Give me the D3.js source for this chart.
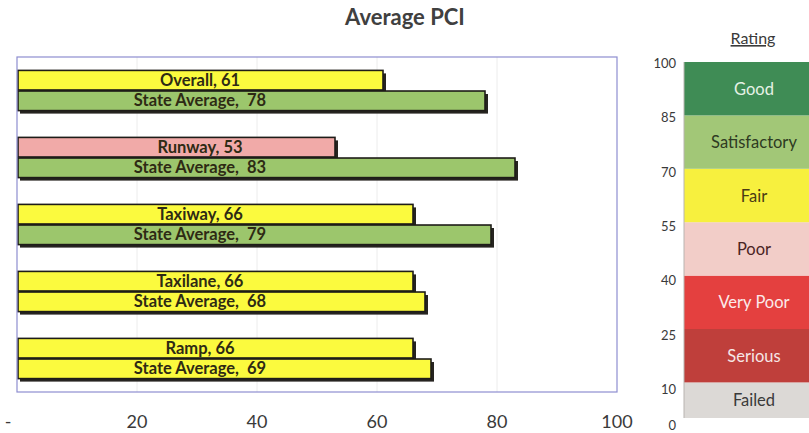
<!DOCTYPE html>
<html><head><meta charset="utf-8">
<script src="https://cdn.jsdelivr.net/npm/d3@7"></script>
<style>
html,body{margin:0;padding:0;background:#fff;}
svg{display:block;}
text{font-family:Lato,"Open Sans",sans-serif;}
</style></head>
<body><svg id="c" width="809" height="433"></svg>
<script>
const categories = ["Overall","Runway","Taxiway","Taxilane","Ramp"];
const pciValues = [61,53,66,66,66];
const stateAverages = [78,83,79,68,69];
const xTicks = [0,20,40,60,80,100];
const xTickLabels = ["-","20","40","60","80","100"];
const ratingNames = ["Failed","Serious","Very Poor","Poor","Fair","Satisfactory","Good"];
const ratingBreaks = [0,10,25,40,55,70,85,100];

const legendFill = ["#dcd9d6","#bf3f3b","#e4403f","#f2cdc8","#f7f03e","#a2c777","#3f8c55"];
const legendText = ["#3a3a3a","#f6e6e6","#fbeaea","#4a2424","#4a3a14","#2e3a22","#e6f2e6"];
const barFill = ["#dcd9d6","#bf3f3b","#e4403f","#f1aaa8","#fbfa3e","#9cc66c","#3f8c55"];

const svg = d3.select("#c");
const L = 17, R = 617, T = 57, B = 392;

const x = d3.scaleLinear().domain([0,100]).range([L,R]);
const y = d3.scaleBand().domain(categories).range([T,B]).paddingInner(0.4).paddingOuter(0.2);
const ySub = d3.scaleBand().domain(["pci","state"]).range([0,y.bandwidth()]).paddingInner(0.05);
const rating = d3.scaleThreshold().domain(ratingBreaks.slice(1,-1)).range(d3.range(ratingNames.length));

// title
svg.append("text").attr("x",405).attr("y",25).attr("text-anchor","middle")
  .attr("font-size",22).attr("font-weight","bold").attr("fill","#404040").text("Average PCI");

// gridlines
svg.append("g").selectAll("line").data(xTicks.slice(1,-1)).join("line")
  .attr("x1",d=>x(d)).attr("x2",d=>x(d)).attr("y1",T).attr("y2",B)
  .attr("stroke","#ececec").attr("stroke-width",1);

// bars
const rows = [];
categories.forEach((c,i)=>{
  rows.push({cat:c,key:"pci",v:pciValues[i],label:`${c}, ${pciValues[i]}`});
  rows.push({cat:c,key:"state",v:stateAverages[i],label:`State Average,  ${stateAverages[i]}`});
});
const by = d => y(d.cat)+ySub(d.key);
const gb = svg.append("g");
gb.selectAll("rect.sh").data(rows).join("rect").attr("class","sh")
  .attr("x",x(0)+3).attr("y",d=>by(d)+3).attr("width",d=>x(d.v)-x(0)).attr("height",ySub.bandwidth())
  .attr("fill","#262420");
gb.selectAll("rect.bar").data(rows).join("rect").attr("class","bar")
  .attr("x",x(0)+1).attr("y",d=>by(d)).attr("width",d=>x(d.v)-x(0)-1).attr("height",ySub.bandwidth())
  .attr("fill",d=>barFill[rating(d.v)]).attr("stroke","#1e1c18").attr("stroke-width",1.6);
gb.selectAll("text").data(rows).join("text")
  .attr("x",x(30.5)).attr("y",d=>by(d)+ySub.bandwidth()/2+5.5).attr("text-anchor","middle")
  .attr("font-size",16.5).attr("font-weight","bold").attr("fill","#2e2a14")
  .style("white-space","pre").text(d=>d.label);

// frame
svg.append("rect").attr("x",L).attr("y",T).attr("width",R-L).attr("height",B-T)
  .attr("fill","none").attr("stroke","#8e8ed0").attr("stroke-width",1.2);

// x axis labels
svg.append("g").selectAll("text").data(xTicks).join("text")
  .attr("x",(d,i)=>i===0 ? x(d)-9 : x(d)).attr("y",428).attr("text-anchor","middle")
  .attr("font-size",18).attr("fill","#3a3a3a").text((d,i)=>xTickLabels[i]);

// legend
const ly = d3.scaleLinear().domain([0,100]).range([418,62]);
const lyLab = d3.scaleLinear().domain([0,100]).range([430,68]);
const bands = ratingNames.map((n,i)=>({name:n,lo:ratingBreaks[i],hi:ratingBreaks[i+1],i}));
const lg = svg.append("g");
lg.selectAll("rect").data(bands).join("rect")
  .attr("x",684).attr("y",d=>ly(d.hi)).attr("width",140).attr("height",d=>ly(d.lo)-ly(d.hi))
  .attr("fill",d=>legendFill[d.i]);
lg.append("line").attr("x1",684).attr("x2",684).attr("y1",ly(100)).attr("y2",ly(0))
  .attr("stroke","#b8b4b0").attr("stroke-width",1);
lg.selectAll("text.bl").data(bands).join("text").attr("class","bl")
  .attr("x",754).attr("y",d=>(ly(d.lo)+ly(d.hi))/2+6).attr("text-anchor","middle")
  .attr("font-size",16.5).attr("fill",d=>legendText[d.i]).text(d=>d.name);
lg.selectAll("text.nl").data(ratingBreaks).join("text").attr("class","nl")
  .attr("x",676).attr("y",d=>lyLab(d)).attr("text-anchor","end")
  .attr("font-size",13).attr("fill","#3a3a3a").text(d=>d);
lg.append("text").attr("x",753).attr("y",44).attr("text-anchor","middle")
  .attr("font-size",16).attr("fill","#3a3a3a").attr("text-decoration","underline").text("Rating");
</script></body></html>
